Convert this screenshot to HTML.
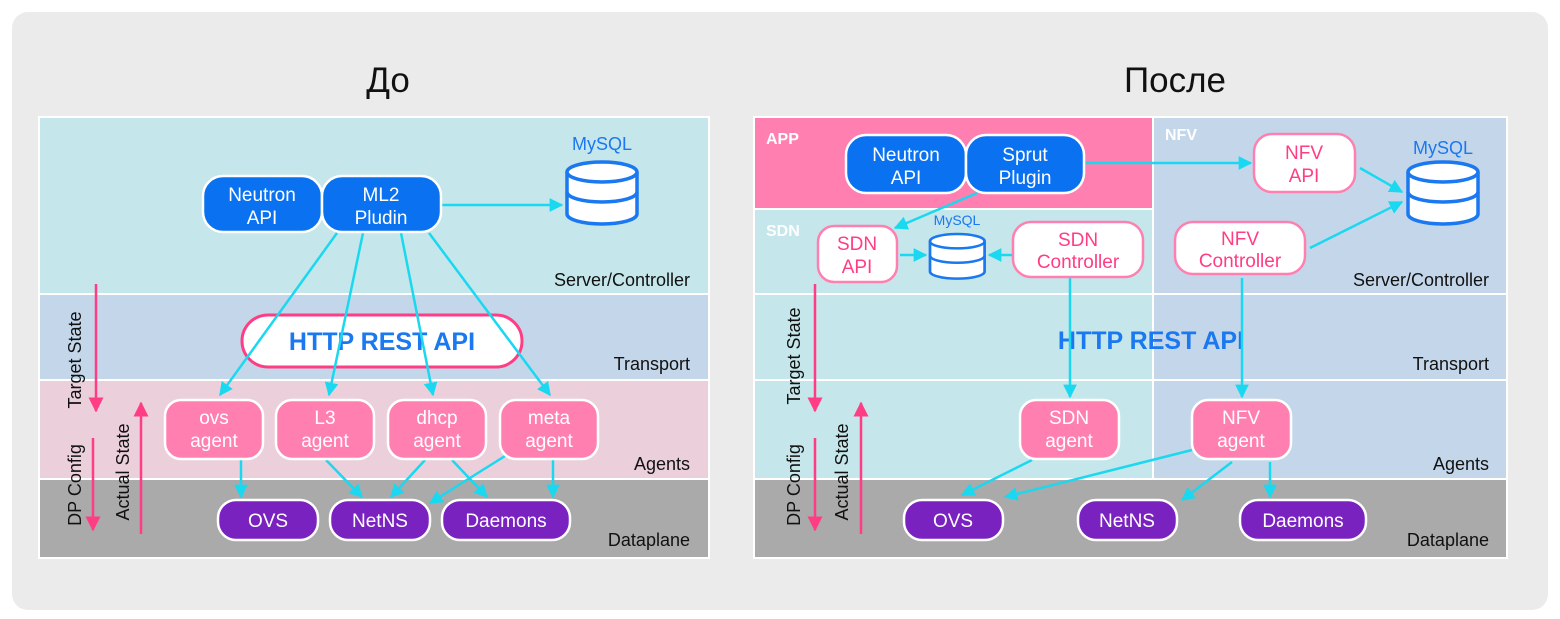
<!DOCTYPE html>
<html><head><meta charset="utf-8"><style>
html,body{margin:0;padding:0;background:#fff;}
svg{display:block;font-family:"Liberation Sans",sans-serif;}
</style></head><body>
<svg width="1560" height="619" viewBox="0 0 1560 619" xmlns="http://www.w3.org/2000/svg">
<defs>
<marker id="c" viewBox="0 0 10 10" refX="9" refY="5" markerWidth="5.5" markerHeight="5.5" orient="auto" markerUnits="strokeWidth"><path d="M0,0 L10,5 L0,10 z" fill="#1ad8f0"/></marker>
<marker id="p" viewBox="0 0 10 10" refX="9" refY="5" markerWidth="6" markerHeight="6" orient="auto" markerUnits="strokeWidth"><path d="M0,0 L10,5 L0,10 z" fill="#ff3d84"/></marker>
<g id="cyl">
<path d="M0,10 v42 a35,10 0 0 0 70,0 v-42" fill="#fff" stroke="#1a78f0" stroke-width="3.5"/>
<ellipse cx="35" cy="10" rx="35" ry="10" fill="#fff" stroke="#1a78f0" stroke-width="3.5"/>
<path d="M0,30 a35,10 0 0 0 70,0" fill="none" stroke="#1a78f0" stroke-width="3.5"/>
</g>
</defs>
<rect x="12" y="12" width="1536" height="598" rx="16" fill="#ebebeb"/>
<text x="388" y="92" font-size="35" text-anchor="middle" fill="#111">До</text>
<text x="1175" y="92" font-size="35" text-anchor="middle" fill="#111">После</text>

<!-- LEFT -->
<rect x="38" y="116" width="672" height="443" fill="#fff"/>
<rect x="40" y="118" width="668" height="175" fill="#c5e6ea"/>
<rect x="40" y="295" width="668" height="84" fill="#c4d7ea"/>
<rect x="40" y="381" width="668" height="97" fill="#ebd0dc"/>
<rect x="40" y="480" width="668" height="77" fill="#aaaaaa"/>
<g font-size="18" fill="#111" text-anchor="end">
<text x="690" y="286">Server/Controller</text>
<text x="690" y="370">Transport</text>
<text x="690" y="470">Agents</text>
<text x="690" y="546">Dataplane</text>
</g>
<rect x="242" y="315" width="280" height="52" rx="26" fill="#fff" stroke="#ff3d84" stroke-width="3"/>
<text x="382" y="350" font-size="25" font-weight="bold" fill="#1a78f0" text-anchor="middle">HTTP REST API</text>
<g stroke="#1ad8f0" stroke-width="2.5" fill="none" marker-end="url(#c)">
<line x1="337" y1="233" x2="220" y2="395"/>
<line x1="363" y1="233" x2="329" y2="395"/>
<line x1="401" y1="233" x2="433" y2="395"/>
<line x1="429" y1="233" x2="550" y2="395"/>
<line x1="441" y1="205" x2="562" y2="205"/>
<line x1="241" y1="460" x2="241" y2="497"/>
<line x1="326" y1="460" x2="362" y2="497"/>
<line x1="425" y1="460" x2="391" y2="497"/>
<line x1="452" y1="460" x2="487" y2="497"/>
<line x1="505" y1="456" x2="430" y2="503"/>
<line x1="553" y1="460" x2="553" y2="497"/>
</g>
<g stroke="#fff" stroke-width="2.5">
<rect x="203" y="176" width="119" height="56" rx="20" fill="#0a72f0"/>
<rect x="322" y="176" width="119" height="56" rx="20" fill="#0a72f0"/>
</g>
<g font-size="19" fill="#fff" text-anchor="middle">
<text x="262" y="201">Neutron</text><text x="262" y="224">API</text>
<text x="381" y="201">ML2</text><text x="381" y="224">Pludin</text>
</g>
<text x="602" y="150" font-size="18" fill="#1a78f0" text-anchor="middle">MySQL</text>
<use href="#cyl" x="567" y="162"/>
<g stroke="#fff" stroke-width="2.5" fill="#ff80b0">
<rect x="165" y="400" width="98" height="59" rx="16"/>
<rect x="276" y="400" width="98" height="59" rx="16"/>
<rect x="388" y="400" width="98" height="59" rx="16"/>
<rect x="500" y="400" width="98" height="59" rx="16"/>
</g>
<g font-size="19" fill="#fff" text-anchor="middle">
<text x="214" y="424">ovs</text><text x="214" y="447">agent</text>
<text x="325" y="424">L3</text><text x="325" y="447">agent</text>
<text x="437" y="424">dhcp</text><text x="437" y="447">agent</text>
<text x="549" y="424">meta</text><text x="549" y="447">agent</text>
</g>
<g stroke="#fff" stroke-width="2.5" fill="#7a22c0">
<rect x="218" y="500" width="100" height="40" rx="18"/>
<rect x="330" y="500" width="100" height="40" rx="18"/>
<rect x="442" y="500" width="128" height="40" rx="18"/>
</g>
<g font-size="19" fill="#fff" text-anchor="middle">
<text x="268" y="527">OVS</text><text x="380" y="527">NetNS</text><text x="506" y="527">Daemons</text>
</g>
<g stroke="#ff3d84" stroke-width="2.5" marker-end="url(#p)">
<line x1="96" y1="284" x2="96" y2="411"/>
<line x1="93" y1="438" x2="93" y2="530"/>
<line x1="141" y1="534" x2="141" y2="403"/>
</g>
<g font-size="18" fill="#111" text-anchor="middle">
<text transform="translate(81,360) rotate(-90)">Target State</text>
<text transform="translate(81,485) rotate(-90)">DP Config</text>
<text transform="translate(129,472) rotate(-90)">Actual State</text>
</g>

<!-- RIGHT -->
<rect x="753" y="116" width="755" height="443" fill="#fff"/>
<rect x="755" y="118" width="397" height="90" fill="#ff80b0"/>
<rect x="755" y="210" width="397" height="83" fill="#c5e6ea"/>
<rect x="755" y="295" width="397" height="84" fill="#c5e6ea"/>
<rect x="755" y="381" width="397" height="97" fill="#c5e6ea"/>
<rect x="1154" y="118" width="352" height="175" fill="#c4d7ea"/>
<rect x="1154" y="295" width="352" height="84" fill="#c4d7ea"/>
<rect x="1154" y="381" width="352" height="97" fill="#c4d7ea"/>
<rect x="755" y="480" width="751" height="77" fill="#aaaaaa"/>
<g font-size="16" font-weight="bold" fill="#fff">
<text x="766" y="144">APP</text><text x="766" y="236">SDN</text><text x="1165" y="140">NFV</text>
</g>
<g font-size="18" fill="#111" text-anchor="end">
<text x="1489" y="286">Server/Controller</text>
<text x="1489" y="370">Transport</text>
<text x="1489" y="470">Agents</text>
<text x="1489" y="546">Dataplane</text>
</g>
<text x="1151" y="349" font-size="25" font-weight="bold" fill="#1a78f0" text-anchor="middle">HTTP REST API</text>
<g stroke="#1ad8f0" stroke-width="2.5" fill="none" marker-end="url(#c)">
<line x1="1084" y1="163" x2="1251" y2="163"/>
<line x1="977" y1="193" x2="895" y2="228"/>
<line x1="900" y1="255" x2="926" y2="255"/>
<line x1="1012" y1="255" x2="989" y2="255"/>
<line x1="1360" y1="168" x2="1402" y2="192"/>
<line x1="1310" y1="248" x2="1402" y2="202"/>
<line x1="1070" y1="278" x2="1070" y2="397"/>
<line x1="1242" y1="278" x2="1242" y2="397"/>
<line x1="1032" y1="460" x2="962" y2="495"/>
<line x1="1192" y1="450" x2="1005" y2="497"/>
<line x1="1232" y1="462" x2="1182" y2="500"/>
<line x1="1270" y1="462" x2="1270" y2="497"/>
</g>
<g stroke="#fff" stroke-width="2.5">
<rect x="846" y="135" width="120" height="58" rx="20" fill="#0a72f0"/>
<rect x="966" y="135" width="118" height="58" rx="20" fill="#0a72f0"/>
</g>
<g font-size="19" fill="#fff" text-anchor="middle">
<text x="906" y="161">Neutron</text><text x="906" y="184">API</text>
<text x="1025" y="161">Sprut</text><text x="1025" y="184">Plugin</text>
</g>
<g stroke="#ff80b0" stroke-width="2.5" fill="#fff">
<rect x="1254" y="134" width="101" height="58" rx="18"/>
<rect x="1175" y="222" width="130" height="52" rx="18"/>
<rect x="818" y="226" width="79" height="56" rx="16"/>
<rect x="1013" y="222" width="130" height="55" rx="18"/>
</g>
<g font-size="19" fill="#ff3d84" text-anchor="middle">
<text x="1304" y="159">NFV</text><text x="1304" y="182">API</text>
<text x="1240" y="245">NFV</text><text x="1240" y="267">Controller</text>
<text x="857" y="250">SDN</text><text x="857" y="273">API</text>
<text x="1078" y="246">SDN</text><text x="1078" y="268">Controller</text>
</g>
<text x="1443" y="154" font-size="18" fill="#1a78f0" text-anchor="middle">MySQL</text>
<use href="#cyl" x="1408" y="162"/>
<text x="957" y="225" font-size="14" fill="#1a78f0" text-anchor="middle">MySQL</text>
<g transform="translate(930,234) scale(0.78,0.72)"><use href="#cyl"/></g>
<g stroke="#fff" stroke-width="2.5" fill="#ff80b0">
<rect x="1020" y="400" width="99" height="59" rx="16"/>
<rect x="1192" y="400" width="99" height="59" rx="16"/>
</g>
<g font-size="19" fill="#fff" text-anchor="middle">
<text x="1069" y="424">SDN</text><text x="1069" y="447">agent</text>
<text x="1241" y="424">NFV</text><text x="1241" y="447">agent</text>
</g>
<g stroke="#fff" stroke-width="2.5" fill="#7a22c0">
<rect x="904" y="500" width="99" height="40" rx="18"/>
<rect x="1078" y="500" width="99" height="40" rx="18"/>
<rect x="1240" y="500" width="126" height="40" rx="18"/>
</g>
<g font-size="19" fill="#fff" text-anchor="middle">
<text x="953" y="527">OVS</text><text x="1127" y="527">NetNS</text><text x="1303" y="527">Daemons</text>
</g>
<g stroke="#ff3d84" stroke-width="2.5" marker-end="url(#p)">
<line x1="815" y1="284" x2="815" y2="411"/>
<line x1="815" y1="438" x2="815" y2="530"/>
<line x1="861" y1="534" x2="861" y2="403"/>
</g>
<g font-size="18" fill="#111" text-anchor="middle">
<text transform="translate(800,356) rotate(-90)">Target State</text>
<text transform="translate(800,485) rotate(-90)">DP Config</text>
<text transform="translate(848,472) rotate(-90)">Actual State</text>
</g>
</svg>
</body></html>
